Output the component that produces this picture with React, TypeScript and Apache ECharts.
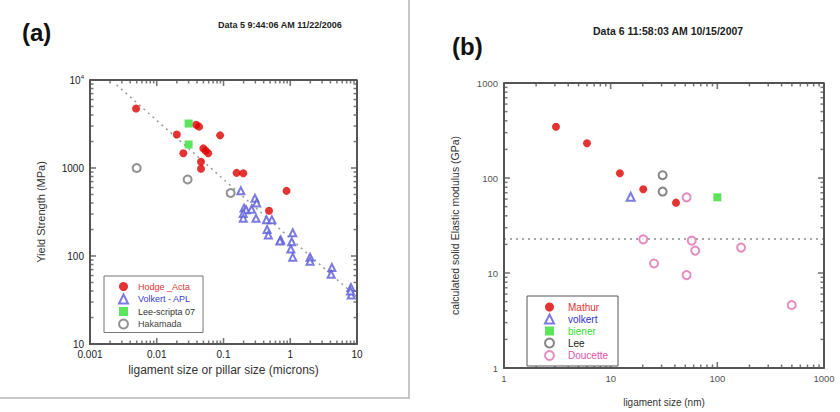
import React, { useEffect, useRef } from 'react';
import * as echarts from 'echarts';

const FONT = '"Liberation Sans", Arial, Helvetica, sans-serif';
const INK = '#555';

// ---------- Panel (a): yield strength vs ligament size (microns) ----------
const aXTicks = [0.001, 0.01, 0.1, 1, 10];
const aYTicks = [10, 100, 1000, 10000];

const hodgeX = [0.0049, 0.02, 0.025, 0.039, 0.043, 0.05, 0.054, 0.059, 0.046, 0.046, 0.089, 0.157, 0.198, 0.88, 0.48];
const hodgeY = [4750, 2400, 1470, 3100, 2950, 1670, 1570, 1470, 1180, 980, 2350, 880, 870, 550, 327];

const volkertX = [0.182, 0.296, 0.314, 0.203, 0.218, 0.263, 0.198, 0.198, 0.307, 0.44, 0.53, 0.45, 0.47, 0.72, 0.7, 1.09, 1.05, 1.02, 1.09, 1.98, 1.98, 4.2, 4.1, 8.1, 8.2, 8.0];
const volkertY = [550, 452, 400, 350, 335, 340, 305, 268, 268, 258, 258, 200, 173, 152, 148, 184, 145, 120, 97, 97, 87, 74, 62, 44, 36, 40];

const leeScriptaX = [0.03, 0.03];
const leeScriptaY = [3200, 1850];

const hakamadaX = [0.005, 0.029, 0.128];
const hakamadaY = [1000, 740, 520];

const aFitX = [0.0025, 10];
const aFitY = [8800, 34];

// ---------- Panel (b): elastic modulus vs ligament size (nm) ----------
const bXTicks = [1, 10, 100, 1000];
const bYTicks = [1, 10, 100, 1000];

const mathurX = [3.07, 6.0, 12.2, 20.2, 41];
const mathurY = [347, 232, 112, 76, 55];

const volkertNmX = [15.4];
const volkertNmY = [63.5];

const bienerX = [100];
const bienerY = [62.6];

const leeX = [30.7, 30.7];
const leeY = [107, 72];

const doucetteX = [51.5, 20.2, 57.5, 62, 25.5, 51.5, 167, 498];
const doucetteY = [62.6, 22.6, 21.9, 17.2, 12.6, 9.5, 18.5, 4.6];

const bRefX = [1, 1000];
const bRefY = [22.8, 22.8];

const zip = (xs: number[], ys: number[]) => xs.map((x, i) => [x, ys[i]]);

const minorValues = (lo: number, hi: number) => {
  const out: number[] = [];
  const e0 = Math.round(Math.log10(lo));
  const e1 = Math.round(Math.log10(hi));
  for (let e = e0; e < e1; e++) {
    for (let m = 2; m <= 9; m++) out.push(m * Math.pow(10, e));
  }
  return out;
};

const fmtNum = (v: number) => String(Number(v.toPrecision(6)));

const MAJOR = 6;
const MINOR = 3.5;

// plot-box frame, drawn through the axes' scales
function frameSeries(idx: number, xTicks: number[], yTicks: number[]) {
  const x0 = xTicks[0], x1 = xTicks[xTicks.length - 1];
  const y0 = yTicks[0], y1 = yTicks[yTicks.length - 1];
  return {
    name: 'box' + idx,
    type: 'line', xAxisIndex: idx, yAxisIndex: idx, symbol: 'none', clip: false,
    data: [[x0, y0], [x1, y0], [x1, y1], [x0, y1], [x0, y0]],
    lineStyle: { color: INK, width: 2 },
  };
}

// inside major/minor ticks on the four sides, as thin rect symbols placed by the axes' scales
function tickSeries(idx: number, xTicks: number[], yTicks: number[]) {
  const x0 = xTicks[0], x1 = xTicks[xTicks.length - 1];
  const y0 = yTicks[0], y1 = yTicks[yTicks.length - 1];
  const items: any[] = [];
  const addX = (v: number, L: number, w: number) => {
    items.push({ value: [v, y0], symbolSize: [w, L], symbolOffset: [0, -L / 2] });
    items.push({ value: [v, y1], symbolSize: [w, L], symbolOffset: [0, L / 2] });
  };
  const addY = (v: number, L: number, w: number) => {
    items.push({ value: [x0, v], symbolSize: [L, w], symbolOffset: [L / 2, 0] });
    items.push({ value: [x1, v], symbolSize: [L, w], symbolOffset: [-L / 2, 0] });
  };
  xTicks.slice(1, -1).forEach((v) => addX(v, MAJOR, 1.6));
  minorValues(x0, x1).forEach((v) => addX(v, MINOR, 1.5));
  yTicks.slice(1, -1).forEach((v) => addY(v, MAJOR, 1.6));
  minorValues(y0, y1).forEach((v) => addY(v, MINOR, 1.5));
  return {
    name: 'tk' + idx,
    type: 'scatter', xAxisIndex: idx, yAxisIndex: idx, clip: false,
    symbol: 'rect', itemStyle: { color: INK }, data: items,
  };
}

function mkAxis(grid: number, min: number, max: number, isX: boolean, labelColor: string, fontSize: number, name: string, nameGap: number, nameSize: number, formatter: any, rich?: any) {
  return {
    type: 'log',
    gridIndex: grid,
    min,
    max,
    axisLine: { show: true, onZero: false, lineStyle: { color: INK, width: 2 } },
    axisTick: { show: false },
    splitLine: { show: false },
    axisLabel: { color: labelColor, fontSize, fontFamily: FONT, margin: isX ? 5 : 6, formatter, rich },
    name,
    nameLocation: 'middle',
    nameGap,
    nameTextStyle: { color: '#333', fontSize: nameSize, fontFamily: FONT },
  };
}

export default function App() {
  const ref = useRef<HTMLDivElement>(null);

  useEffect(() => {
    if (!ref.current) return;
    const chart = echarts.init(ref.current, null, { renderer: 'svg' });

    const option: any = {
      animation: false,
      backgroundColor: '#fff',
      grid: [
        { left: 90, top: 80, width: 267, height: 264 },
        { left: 504, top: 83, width: 320, height: 285 },
      ],
      xAxis: [
        mkAxis(0, aXTicks[0], aXTicks[aXTicks.length - 1], true, '#222', 10,
          'ligament size or pillar size (microns)', 20, 12, (v: number) => fmtNum(v)),
        mkAxis(1, bXTicks[0], bXTicks[bXTicks.length - 1], true, '#555', 9.5,
          'ligament size (nm)', 29, 10, (v: number) => fmtNum(v)),
      ],
      yAxis: [
        mkAxis(0, aYTicks[0], aYTicks[aYTicks.length - 1], false, '#222', 10,
          'Yield Strength (MPa)', 44, 11,
          (v: number) => (v >= 10000 ? '{b|10}{s|' + Math.round(Math.log10(v)) + '}' : fmtNum(v)),
          { b: { fontSize: 10, fontFamily: FONT, color: '#222' }, s: { fontSize: 6, fontFamily: FONT, color: '#222', verticalAlign: 'top', padding: [0, 0, 6, 0] } }),
        mkAxis(1, bYTicks[0], bYTicks[bYTicks.length - 1], false, '#555', 9.5,
          'calculated solid Elastic modulus (GPa)', 44, 10.5, (v: number) => fmtNum(v)),
      ],
      legend: [
        {
          orient: 'vertical',
          left: 104,
          top: 276,
          padding: [6, 8, 3, 14],
          itemWidth: 9,
          itemHeight: 9,
          itemGap: 2.5,
          borderColor: '#777',
          borderWidth: 1,
          backgroundColor: '#fff',
          selectedMode: false,
          textStyle: { fontSize: 9, fontFamily: FONT, padding: [0, 0, 0, 5] },
          data: [
            { name: 'Hodge _Acta', textStyle: { color: '#e03535' } },
            { name: 'Volkert - APL', textStyle: { color: '#3a3ad0' } },
            { name: 'Lee-scripta 07', textStyle: { color: '#333' } },
            { name: 'Hakamada', textStyle: { color: '#444' } },
          ],
        },
        {
          orient: 'vertical',
          left: 527,
          top: 296,
          padding: [6, 10, 5, 17],
          itemWidth: 9,
          itemHeight: 9,
          itemGap: 1.5,
          borderColor: '#555',
          borderWidth: 1,
          backgroundColor: '#fff',
          selectedMode: false,
          textStyle: { fontSize: 10, fontFamily: FONT, padding: [0, 0, 0, 9] },
          data: [
            { name: 'Mathur', textStyle: { color: '#e03535' } },
            { name: 'volkert', textStyle: { color: '#3030c8' } },
            { name: 'biener', textStyle: { color: '#33dd33' } },
            { name: 'Lee', textStyle: { color: '#222' } },
            { name: 'Doucette', textStyle: { color: '#e050a8' } },
          ],
        },
      ],
      graphic: [
        { type: 'polyline', shape: { points: [[409, 0], [409, 398], [0, 398]] }, style: { stroke: '#b5b5b5', lineWidth: 1.5 } },
        { type: 'text', x: 22, y: 32, style: { text: '(a)', fontSize: 24, fontWeight: 'bold', fontFamily: FONT, fill: '#111', verticalAlign: 'middle' } },
        { type: 'text', x: 218, y: 25, style: { text: 'Data 5 9:44:06 AM 11/22/2006', fontSize: 9, fontWeight: 'bold', fontFamily: FONT, fill: '#222', verticalAlign: 'middle' } },
        { type: 'text', x: 452, y: 46, style: { text: '(b)', fontSize: 24, fontWeight: 'bold', fontFamily: FONT, fill: '#111', verticalAlign: 'middle' } },
        { type: 'text', x: 593, y: 31, style: { text: 'Data 6 11:58:03 AM 10/15/2007', fontSize: 10.5, fontWeight: 'bold', fontFamily: FONT, fill: '#222', verticalAlign: 'middle' } },
      ],
      series: [
        {
          name: 'fit-a', type: 'line', xAxisIndex: 0, yAxisIndex: 0, data: zip(aFitX, aFitY), symbol: 'none',
          lineStyle: { color: '#9a9a9a', width: 1.5, type: [2, 4] },
        },
        {
          name: 'Hodge _Acta', type: 'scatter', xAxisIndex: 0, yAxisIndex: 0, data: zip(hodgeX, hodgeY),
          symbol: 'circle', symbolSize: 8, itemStyle: { color: '#dd0000' }, z: 4,
        },
        {
          name: 'Volkert - APL', type: 'scatter', xAxisIndex: 0, yAxisIndex: 0, data: zip(volkertX, volkertY),
          symbol: 'emptyTriangle', symbolSize: 7, itemStyle: { color: '#5a5ad8', borderWidth: 0.9 }, z: 3,
        },
        {
          name: 'Lee-scripta 07', type: 'scatter', xAxisIndex: 0, yAxisIndex: 0, data: zip(leeScriptaX, leeScriptaY),
          symbol: 'rect', symbolSize: 8, itemStyle: { color: '#33dd33' }, z: 4,
        },
        {
          name: 'Hakamada', type: 'scatter', xAxisIndex: 0, yAxisIndex: 0, data: zip(hakamadaX, hakamadaY),
          symbol: 'emptyCircle', symbolSize: 8, itemStyle: { color: '#777', borderWidth: 1 }, z: 4,
        },
        {
          name: 'ref-b', type: 'line', xAxisIndex: 1, yAxisIndex: 1, data: zip(bRefX, bRefY), symbol: 'none',
          lineStyle: { color: '#8a8a8a', width: 1.5, type: [2, 4] },
        },
        {
          name: 'Mathur', type: 'scatter', xAxisIndex: 1, yAxisIndex: 1, data: zip(mathurX, mathurY),
          symbol: 'circle', symbolSize: 8, itemStyle: { color: '#dd0000' }, z: 4,
        },
        {
          name: 'volkert', type: 'scatter', xAxisIndex: 1, yAxisIndex: 1, data: zip(volkertNmX, volkertNmY),
          symbol: 'emptyTriangle', symbolSize: 8, itemStyle: { color: '#5a5ad8', borderWidth: 1 }, z: 4,
        },
        {
          name: 'biener', type: 'scatter', xAxisIndex: 1, yAxisIndex: 1, data: zip(bienerX, bienerY),
          symbol: 'rect', symbolSize: 8, itemStyle: { color: '#33dd33' }, z: 4,
        },
        {
          name: 'Lee', type: 'scatter', xAxisIndex: 1, yAxisIndex: 1, data: zip(leeX, leeY),
          symbol: 'emptyCircle', symbolSize: 8, itemStyle: { color: '#666', borderWidth: 1 }, z: 4,
        },
        {
          name: 'Doucette', type: 'scatter', xAxisIndex: 1, yAxisIndex: 1, data: zip(doucetteX, doucetteY),
          symbol: 'emptyCircle', symbolSize: 8, itemStyle: { color: '#e070b0', borderWidth: 1 }, z: 4,
        },
        frameSeries(0, aXTicks, aYTicks),
        tickSeries(0, aXTicks, aYTicks),
        frameSeries(1, bXTicks, bYTicks),
        tickSeries(1, bXTicks, bYTicks),
      ],
    };

    chart.setOption(option);
    return () => chart.dispose();
  }, []);

  return (
    <div
      ref={ref}
      style={{ position: 'absolute', left: 0, top: 0, width: 840, height: 412 }}
    />
  );
}
